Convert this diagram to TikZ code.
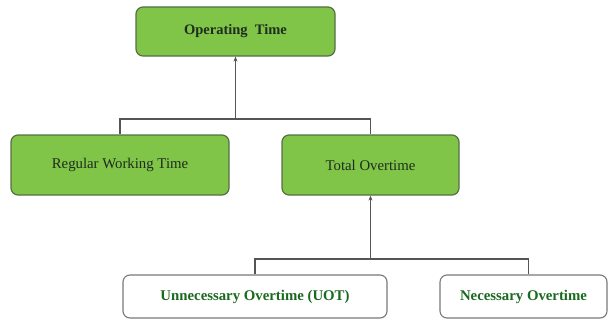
\documentclass[tikz,border=0pt]{standalone}
\usepackage{fontspec}
\setmainfont{Liberation Serif}
\usetikzlibrary{arrows.meta,calc}
\definecolor{boxgreen}{RGB}{128,196,72}
\definecolor{boxedge}{RGB}{88,110,70}
\definecolor{greyedge}{RGB}{120,120,120}
\definecolor{conncol}{RGB}{85,85,85}
\definecolor{txtdark}{RGB}{30,45,30}
\definecolor{txtgreen}{RGB}{25,105,30}
\tikzset{
  gbox/.style={draw=boxedge, line width=1.2pt, fill=boxgreen, rounded corners=7pt,
    inner sep=0pt, text=txtdark, font=\fontsize{14.8}{17}\selectfont},
  wbox/.style={draw=greyedge, line width=1.1pt, fill=white, rounded corners=7pt,
    inner sep=0pt, text=txtgreen, font=\fontsize{14.8}{17}\selectfont\bfseries},
  conn/.style={draw=conncol, line width=1.3pt},
  arr/.style={conn, -{Stealth[length=5pt,width=4pt]}}
}
\begin{document}
\begin{tikzpicture}[x=1pt,y=-1pt]
\useasboundingbox (0,0) rectangle (609,321);
\node[gbox, minimum width=199pt, minimum height=49pt, font=\fontsize{14.5}{17}\selectfont\bfseries] (op) at (235.5,31.5) {Operating\ \ Time};
\node[gbox, minimum width=218pt, minimum height=60pt] (reg) at (120,165) {Regular Working Time};
\node[gbox, minimum width=177pt, minimum height=60pt] (tot) at (370.5,165) {Total Overtime};
\node[wbox, minimum width=264pt, minimum height=43pt] (unn) at (255,296.5) {Unnecessary Overtime (UOT)};
\node[wbox, minimum width=167pt, minimum height=43pt] (nec) at (523.5,296.5) {Necessary Overtime};
\coordinate (j1) at (235.5,119);
\coordinate (j2) at (370.5,259);
\draw[arr] (j1) -- (op.south);
\draw[conn] (reg.north) |- (j1) -| (tot.north);
\draw[arr] (j2) -- (tot.south);
\draw[conn] (unn.north) |- (j2) -| ([xshift=89pt]nec.north west);
\end{tikzpicture}
\end{document}
